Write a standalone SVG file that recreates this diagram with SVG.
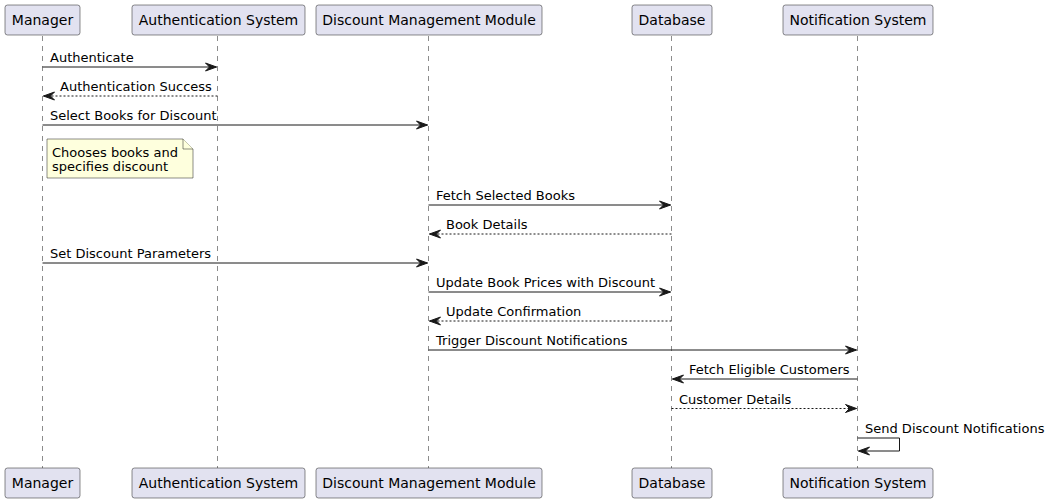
<svg xmlns="http://www.w3.org/2000/svg" width="1050" height="503" viewBox="0 0 1050 503">
<style>
.p rect{fill:#E2E2F0;stroke:#181818;stroke-width:0.5}
.p text{font-family:"DejaVu Sans",sans-serif;font-size:14px;fill:#000;text-anchor:middle}
.life{stroke:#181818;stroke-width:0.5;stroke-dasharray:5,5;fill:none}
.m{stroke:#181818;stroke-width:1;fill:none}
.d{stroke-dasharray:2,2}
.ah{fill:#181818;stroke:#181818;stroke-width:1}
.lbl{font-family:"DejaVu Sans",sans-serif;font-size:13px;fill:#000}
</style>
<rect width="1050" height="503" fill="#FFFFFF"/>
<g id="lifelines">
<line class="life" x1="42.5" y1="36" x2="42.5" y2="468"/>
<line class="life" x1="217.5" y1="36" x2="217.5" y2="468"/>
<line class="life" x1="428.5" y1="36" x2="428.5" y2="468"/>
<line class="life" x1="671.5" y1="36" x2="671.5" y2="468"/>
<line class="life" x1="857.5" y1="36" x2="857.5" y2="468"/>
</g>
<g id="manager" class="p">
<rect x="5" y="5" width="75" height="30" rx="2.5"/>
<text x="42.5" y="25">Manager</text>
<rect x="5" y="468" width="75" height="30" rx="2.5"/>
<text x="42.5" y="488">Manager</text>
</g>
<g id="auth" class="p">
<rect x="132" y="5" width="173" height="30" rx="2.5"/>
<text x="218.5" y="25">Authentication System</text>
<rect x="132" y="468" width="173" height="30" rx="2.5"/>
<text x="218.5" y="488">Authentication System</text>
</g>
<g id="dmm" class="p">
<rect x="316" y="5" width="226" height="30" rx="2.5"/>
<text x="429" y="25">Discount Management Module</text>
<rect x="316" y="468" width="226" height="30" rx="2.5"/>
<text x="429" y="488">Discount Management Module</text>
</g>
<g id="db" class="p">
<rect x="632" y="5" width="80" height="30" rx="2.5"/>
<text x="672" y="25">Database</text>
<rect x="632" y="468" width="80" height="30" rx="2.5"/>
<text x="672" y="488">Database</text>
</g>
<g id="notif" class="p">
<rect x="783" y="5" width="150" height="30" rx="2.5"/>
<text x="858" y="25">Notification System</text>
<rect x="783" y="468" width="150" height="30" rx="2.5"/>
<text x="858" y="488">Notification System</text>
</g>
<g id="note">
<path d="M47,139 L183,139 L193,149 L193,178 L47,178 Z" fill="#FEFFDD" stroke="#181818" stroke-width="0.5"/>
<path d="M183,139 L183,149 L193,149" fill="#FEFFDD" stroke="#181818" stroke-width="0.5"/>
<text class="lbl" x="52" y="157">Chooses books and</text>
<text class="lbl" x="52" y="171">specifies discount</text>
</g>
<g id="connectors">
<line class="m" x1="42.5" y1="67" x2="216.5" y2="67"/>
<polygon class="ah" points="205.5,63 216.5,67 205.5,71 209.5,67"/>
<text class="lbl" x="50" y="62">Authenticate</text>

<line class="m d" x1="43.5" y1="96" x2="217.5" y2="96"/>
<polygon class="ah" points="54.5,92 43.5,96 54.5,100 50.5,96"/>
<text class="lbl" x="60" y="91">Authentication Success</text>

<line class="m" x1="42.5" y1="125" x2="427.5" y2="125"/>
<polygon class="ah" points="416.5,121 427.5,125 416.5,129 420.5,125"/>
<text class="lbl" x="50" y="120">Select Books for Discount</text>

<line class="m" x1="428.5" y1="205" x2="670.5" y2="205"/>
<polygon class="ah" points="659.5,201 670.5,205 659.5,209 663.5,205"/>
<text class="lbl" x="436" y="200">Fetch Selected Books</text>

<line class="m d" x1="429.5" y1="234" x2="671.5" y2="234"/>
<polygon class="ah" points="440.5,230 429.5,234 440.5,238 436.5,234"/>
<text class="lbl" x="446" y="229">Book Details</text>

<line class="m" x1="42.5" y1="263" x2="427.5" y2="263"/>
<polygon class="ah" points="416.5,259 427.5,263 416.5,267 420.5,263"/>
<text class="lbl" x="50" y="258">Set Discount Parameters</text>

<line class="m" x1="428.5" y1="292" x2="670.5" y2="292"/>
<polygon class="ah" points="659.5,288 670.5,292 659.5,296 663.5,292"/>
<text class="lbl" x="436" y="287">Update Book Prices with Discount</text>

<line class="m d" x1="429.5" y1="321" x2="671.5" y2="321"/>
<polygon class="ah" points="440.5,317 429.5,321 440.5,325 436.5,321"/>
<text class="lbl" x="446" y="316">Update Confirmation</text>

<line class="m" x1="428.5" y1="350" x2="856.5" y2="350"/>
<polygon class="ah" points="845.5,346 856.5,350 845.5,354 849.5,350"/>
<text class="lbl" x="436" y="345">Trigger Discount Notifications</text>

<line class="m" x1="672.5" y1="379" x2="857.5" y2="379"/>
<polygon class="ah" points="683.5,375 672.5,379 683.5,383 679.5,379"/>
<text class="lbl" x="689" y="374">Fetch Eligible Customers</text>

<line class="m d" x1="671.5" y1="408.5" x2="856.5" y2="408.5"/>
<polygon class="ah" points="845.5,404.5 856.5,408.5 845.5,412.5 849.5,408.5"/>
<text class="lbl" x="679" y="403.5">Customer Details</text>

<polyline class="m" points="857.5,438 899.5,438 899.5,451 858.5,451"/>
<polygon class="ah" points="869.5,447 858.5,451 869.5,455 865.5,451"/>
<text class="lbl" x="865" y="433">Send Discount Notifications</text>
</g>
</svg>
